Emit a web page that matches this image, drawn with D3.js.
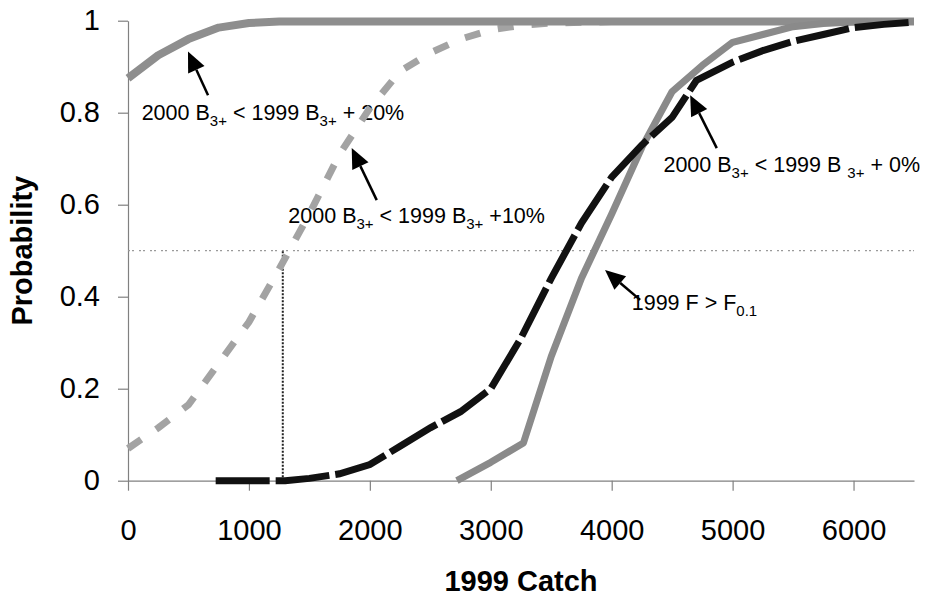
<!DOCTYPE html>
<html>
<head>
<meta charset="utf-8">
<script src="https://cdn.jsdelivr.net/npm/d3@7"></script>
<style>
  html, body { margin: 0; padding: 0; background: #fff; }
  svg { display: block; font-family: "Liberation Sans", Arial, Helvetica, sans-serif; }
</style>
</head>
<body>
<svg id="chart" width="927" height="598"></svg>
<script>
// ---------- data ----------
const xTicks = [0, 1000, 2000, 3000, 4000, 5000, 6000];
const yTicks = [0, 0.2, 0.4, 0.6, 0.8, 1];
const yTickLabels = ["0", "0.2", "0.4", "0.6", "0.8", "1"];
const xTitle = "1999 Catch";
const yTitle = "Probability";

// 2000 B3+ < 1999 B3+ + 20%
const plus20Catch = [0, 250, 500, 750, 1000, 1250, 1500, 2000, 3000, 4000, 5000, 6000, 6500];
const plus20Prob  = [0.875, 0.925, 0.96, 0.985, 0.995, 0.998, 0.998, 0.998, 0.998, 0.998, 0.998, 0.998, 0.998];

// 2000 B3+ < 1999 B3+ + 10%
const plus10Catch = [0, 250, 500, 750, 1000, 1250, 1500, 1750, 2000, 2250, 2500, 2750, 3000, 3250, 3500, 4000, 5000, 6000, 6500];
const plus10Prob  = [0.07, 0.115, 0.165, 0.255, 0.345, 0.46, 0.58, 0.71, 0.81, 0.89, 0.93, 0.96, 0.98, 0.99, 0.995, 0.998, 0.998, 0.998, 0.998];

// 2000 B3+ < 1999 B3+ + 0%
const plus0Catch = [725, 1000, 1300, 1500, 1750, 2000, 2250, 2500, 2750, 3000, 3250, 3500, 3750, 4000, 4250, 4500, 4700, 5000, 5250, 5500, 5750, 6000, 6250, 6500];
const plus0Prob  = [0, 0, 0, 0.005, 0.015, 0.035, 0.075, 0.115, 0.15, 0.2, 0.31, 0.44, 0.56, 0.66, 0.73, 0.79, 0.87, 0.91, 0.935, 0.955, 0.97, 0.985, 0.992, 0.997];

// 1999 F > F0.1
const fCatch = [2720, 3000, 3270, 3500, 3750, 4000, 4250, 4500, 4750, 5000, 5250, 5500, 5750, 6000, 6250, 6500];
const fProb  = [0, 0.04, 0.082, 0.27, 0.44, 0.58, 0.725, 0.846, 0.903, 0.953, 0.97, 0.987, 0.994, 0.997, 0.998, 0.998];

// reference lines
const refProb = 0.5;
const refCatch = 1280;

// annotation labels (text pieces; "sub" = subscript)
const labelPlus20 = [["2000 B", ""], ["3+", "sub"], [" < 1999 B", ""], ["3+", "sub"], [" + 20%", ""]];
const labelPlus10 = [["2000 B", ""], ["3+", "sub"], [" < 1999 B", ""], ["3+", "sub"], [" +10%", ""]];
const labelPlus0  = [["2000 B", ""], ["3+", "sub"], [" < 1999 B ", ""], ["3+", "sub"], [" + 0%", ""]];
const labelF      = [["1999 F > F", ""], ["0.1", "sub"]];

// annotation anchors in data units: text start, arrow tail, arrow tip
const annTextCatch = [113, 1326, 4428, 4166];
const annTextProb  = [0.784, 0.56, 0.672, 0.371];
const annTailCatch = [662, 2057, 4869, 4235];
const annTailProb  = [0.838, 0.61, 0.723, 0.393];
const annTipCatch  = [496, 1850, 4649, 3945];
const annTipProb   = [0.933, 0.723, 0.838, 0.458];

// ---------- layout ----------
const svg = d3.select("#chart");
const margin = { left: 128, top: 20.7, right: 13, bottom: 117.3 };
const W = 927, H = 598;
const x = d3.scaleLinear().domain([0, 6500]).range([margin.left, W - margin.right]);
const y = d3.scaleLinear().domain([0, 1]).range([H - margin.bottom, margin.top]);

const axisColor = "#808080";

// axes
const gx = svg.append("g").attr("transform", `translate(0,${y(0)})`)
  .call(d3.axisBottom(x).tickValues(xTicks).tickFormat(d3.format("d")).tickSize(10).tickSizeOuter(0).tickPadding(29));
const gy = svg.append("g").attr("transform", `translate(${x(0)},0)`)
  .call(d3.axisLeft(y).tickValues(yTicks).tickFormat((d, i) => yTickLabels[i]).tickSize(10).tickSizeOuter(0).tickPadding(18));
[gx, gy].forEach(g => {
  g.select(".domain").attr("stroke", axisColor).attr("stroke-width", 1.2);
  g.selectAll(".tick line").attr("stroke", axisColor).attr("stroke-width", 1.2);
  g.selectAll(".tick text").attr("fill", "#000").attr("font-size", 29)
    .attr("font-family", "'Liberation Sans', Arial, sans-serif");
});

// axis titles
svg.append("text").attr("x", (x(0) + x(6500)) / 2).attr("y", 591)
  .attr("text-anchor", "middle").attr("font-size", 29).attr("font-weight", "bold").text(xTitle);
svg.append("text").attr("transform", `translate(32,${y(0.5)}) rotate(-90)`)
  .attr("text-anchor", "middle").attr("font-size", 29).attr("font-weight", "bold").text(yTitle);

// reference lines
svg.append("line").attr("x1", x(0)).attr("x2", x(6500)).attr("y1", y(refProb)).attr("y2", y(refProb))
  .attr("stroke", "#9a9a9a").attr("stroke-width", 1.2).attr("stroke-dasharray", "2,2,2,5");
svg.append("line").attr("x1", x(refCatch)).attr("x2", x(refCatch)).attr("y1", y(0)).attr("y2", y(refProb))
  .attr("stroke", "#222").attr("stroke-width", 2).attr("stroke-dasharray", "2,1.5");

// annotation text
const labels = [labelPlus20, labelPlus10, labelPlus0, labelF];
labels.forEach((parts, i) => {
  const t = svg.append("text").attr("x", x(annTextCatch[i])).attr("y", y(annTextProb[i]))
    .attr("font-size", 21.5).attr("fill", "#000");
  let shifted = false;
  parts.forEach(([s, kind]) => {
    const ts = t.append("tspan").text(s);
    if (kind === "sub") {
      ts.attr("font-size", 15).attr("dy", shifted ? 0 : 6);
      shifted = true;
    } else {
      ts.attr("dy", shifted ? -6 : 0);
      shifted = false;
    }
  });
});

// curves
const line = d3.line().x(d => x(d[0])).y(d => y(d[1]));
const zip = (a, b) => a.map((v, i) => [v, b[i]]);

svg.append("path").datum(zip(plus10Catch, plus10Prob)).attr("d", line)
  .attr("fill", "none").attr("stroke", "#a3a3a3").attr("stroke-width", 7)
  .attr("stroke-dasharray", "16,18");
svg.append("path").datum(zip(plus20Catch, plus20Prob)).attr("d", line)
  .attr("fill", "none").attr("stroke", "#8e8e8e").attr("stroke-width", 8).attr("stroke-linejoin", "round");
svg.append("path").datum(zip(fCatch, fProb)).attr("d", line)
  .attr("fill", "none").attr("stroke", "#8a8a8a").attr("stroke-width", 7).attr("stroke-linejoin", "round");
svg.append("path").datum(zip(plus0Catch, plus0Prob)).attr("d", line)
  .attr("fill", "none").attr("stroke", "#111").attr("stroke-width", 7)
  .attr("stroke-dasharray", "54,6");

// arrows
annTipCatch.forEach((_, i) => {
  const tx = x(annTipCatch[i]), ty = y(annTipProb[i]);
  const sx = x(annTailCatch[i]), sy = y(annTailProb[i]);
  const dx = tx - sx, dy = ty - sy, len = Math.hypot(dx, dy);
  const ux = dx / len, uy = dy / len;
  const headLen = 20, headW = 9;
  const bx = tx - ux * headLen, by = ty - uy * headLen;
  svg.append("line").attr("x1", sx).attr("y1", sy).attr("x2", bx).attr("y2", by)
    .attr("stroke", "#000").attr("stroke-width", 2.5);
  svg.append("path")
    .attr("d", `M${tx},${ty}L${bx - uy * headW},${by + ux * headW}L${bx + uy * headW},${by - ux * headW}Z`)
    .attr("fill", "#000");
});
</script>
</body>
</html>
